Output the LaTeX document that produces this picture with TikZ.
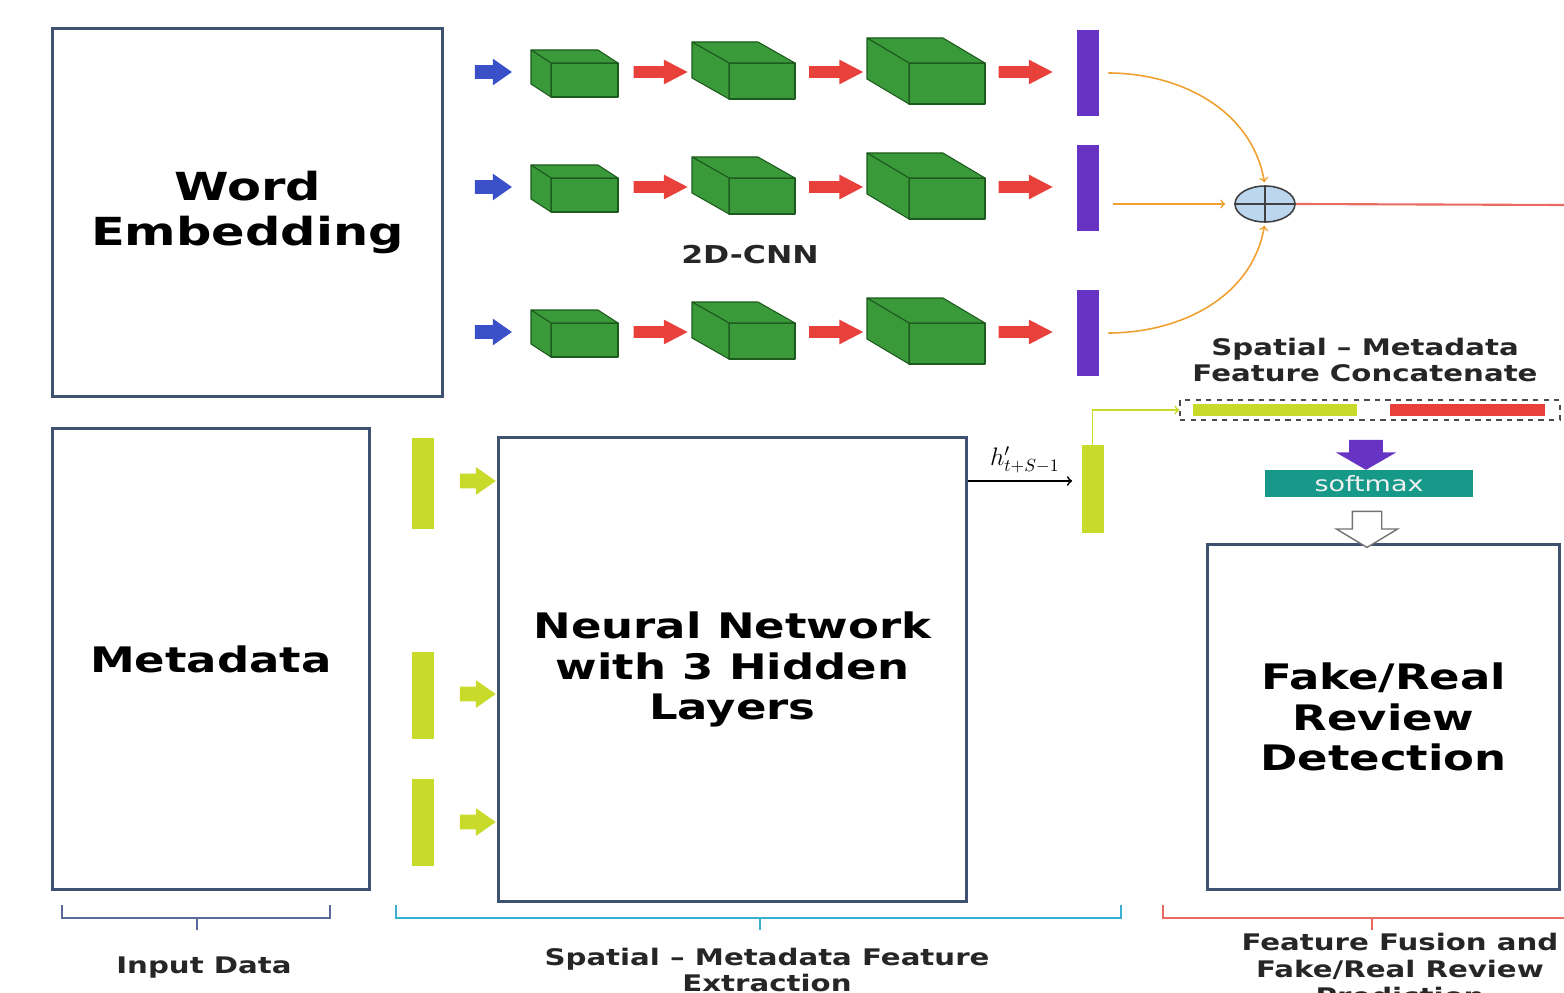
\documentclass[tikz,border=0pt]{standalone}
\usepackage{fontspec}
\newfontfamily\diagfont[FakeStretch=1.28]{DejaVu Sans}
\usetikzlibrary{shapes.geometric,shapes.arrows}
\definecolor{boxblue}{HTML}{3F5170}
\definecolor{cubegreen}{HTML}{3A9A3A}
\definecolor{cubeedge}{HTML}{1D5A1D}
\definecolor{arrblue}{HTML}{3A50C8}
\definecolor{arrred}{HTML}{E8403A}
\definecolor{barpurple}{HTML}{6633C4}
\definecolor{fuseorange}{HTML}{F0A030}
\definecolor{limey}{HTML}{C8DA2A}
\definecolor{softteal}{HTML}{17998A}
\definecolor{oplusblue}{HTML}{BCD6F0}
\definecolor{brkinput}{HTML}{5A6A9A}
\definecolor{brkspatial}{HTML}{3AB0D0}
\definecolor{brkfusion}{HTML}{E86A60}
\newcommand{\cnncube}[6]{%
	\filldraw[cubeface] ({#1},{#2}) rectangle ({#1+#3},{#2+#4});
	\filldraw[cubeface] ({#1},{#2}) -- ({#1-#5},{#2-#6}) -- ({#1+#3-#5},{#2-#6}) -- ({#1+#3},{#2}) -- cycle;
	\filldraw[cubeface] ({#1},{#2}) -- ({#1-#5},{#2-#6}) -- ({#1-#5},{#2+#4-#6}) -- ({#1},{#2+#4}) -- cycle;
}

\begin{document}
\begin{tikzpicture}[x=0.02cm, y=-0.02cm]
		\tikzstyle{every node}=[inner sep=1pt, align=center, font=\diagfont\bfseries]
		\tikzstyle{bigbox}=[draw=boxblue, line width=1.7pt, fill=white]
		\tikzstyle{cubeface}=[fill=cubegreen, draw=cubeedge, line width=0.6pt, line join=round]
		\tikzstyle{blockarr}=[single arrow, inner xsep=0pt, minimum width=0pt]
		\tikzstyle{bluearr}=[blockarr, fill=arrblue, minimum height=0.74cm, inner ysep=0.13cm, single arrow head extend=0.13cm, single arrow tip angle=70]
		\tikzstyle{redarr}=[blockarr, fill=arrred, minimum height=1.08cm, inner ysep=0.11cm, single arrow head extend=0.13cm, single arrow tip angle=55]
		\tikzstyle{limearr}=[blockarr, fill=limey, minimum height=0.72cm, inner ysep=0.14cm, single arrow head extend=0.13cm, single arrow tip angle=70]
		\tikzstyle{cnnbar}=[fill=barpurple, minimum width=0.44cm, minimum height=1.74cm, inner sep=0pt]
		\tikzstyle{metabar}=[fill=limey, minimum width=0.44cm, minimum height=1.76cm, inner sep=0pt]
		\tikzstyle{fusearr}=[->, draw=fuseorange, line width=0.9pt]
		\tikzstyle{label}=[font=\diagfont\bfseries\fontsize{13}{15.3}\selectfont, text=black!85]
		\useasboundingbox (0,0) rectangle (1564,993);
		\clip (0,0) rectangle (1564,993);
		\node[bigbox, minimum width=7.82cm, minimum height=7.38cm, font=\diagfont\bfseries\fontsize{22}{26}\selectfont] (embed) at (247.5,212.5) {Word\\Embedding};
		\node[bigbox, minimum width=6.36cm, minimum height=9.24cm, font=\diagfont\bfseries\fontsize{20}{23}\selectfont] (meta) at (211,659) {Metadata};
		\node[bigbox, minimum width=9.38cm, minimum height=9.3cm, font=\diagfont\bfseries\fontsize{20}{23}\selectfont] (nn) at (732.5,669.5) {Neural Network\\with 3 Hidden\\Layers};
		\node[bigbox, minimum width=7.06cm, minimum height=6.92cm, font=\diagfont\bfseries\fontsize{20}{23}\selectfont] (detect) at (1383.5,717) {Fake/Real\\Review\\Detection};
		\foreach \r/\i in {72/1,187/2,332/3} {
			\node[bluearr] (in\i) at (488.5,\r) {};
			\cnncube{551}{\r-9}{67}{34}{20}{13}
			\node[redarr] (ra\i) at (655,\r) {};
			\cnncube{729}{\r-9}{66}{36}{37}{21}
			\node[redarr] (rb\i) at (830.5,\r) {};
			\cnncube{909}{\r-9}{76}{41}{42}{25}
			\node[redarr] (rc\i) at (1020,\r) {};
			\node[cnnbar] (bar\i) at (1088,{\r+1}) {};
		}
		\node[font=\diagfont\bfseries\fontsize{14}{16}\selectfont, text=black!85] (cnn) at (750,255) {2D-CNN};
		\node[ellipse, draw=black!75, fill=oplusblue, line width=0.9pt, minimum width=1.2cm, minimum height=0.72cm] (oplus) at (1265,204) {};
		\draw[black!75, line width=0.9pt] (oplus.north) -- (oplus.south) (oplus.west) -- (oplus.east);
		\draw[fusearr, shorten <=0.18cm, shorten >=0.06cm] (bar1.east) to[out=0, in=100] (oplus.north);
		\draw[fusearr, shorten <=0.28cm, shorten >=0.18cm] (bar2.east |- oplus.west) -- (oplus.west);
		\draw[fusearr, shorten <=0.18cm, shorten >=0.06cm] (bar3.east) to[out=0, in=260] (oplus.south);
		\coordinate (redend) at (1564,205);
		\draw[brkfusion, line width=1.2pt] (oplus.east) -- (redend);
		\node[label] (concattxt) at (1365,360) {Spatial – Metadata\\Feature Concatenate};
		\node[draw=black!70, dashed, line width=0.9pt, minimum width=7.6cm, minimum height=0.4cm, inner sep=0pt] (concat) at (1370,410) {};
		\node[fill=limey, minimum width=3.28cm, minimum height=0.24cm, inner sep=0pt] (ybar) at (1275,410) {};
		\node[fill=arrred, minimum width=3.1cm, minimum height=0.24cm, inner sep=0pt] (rbar) at (1467.5,410) {};
		\node[metabar] (hbar) at (1092.5,489) {};
		\draw[->, limey, line width=0.9pt] (hbar.north) |- (concat.west);
		\draw[->, line width=1pt, shorten >=0.18cm] (nn.east |- 0,481) -- (hbar.west |- 0,481) node[midway, above=3pt, font=\bfseries\fontsize{14}{16}\selectfont] {$h'_{t+S-1}$};
		\node[blockarr, fill=barpurple, rotate=-90, minimum height=0.6cm, inner ysep=0.33cm, single arrow head extend=0.27cm, single arrow tip angle=120] (downarr) at (1366,450) {};
		\node[fill=softteal, minimum width=4.16cm, minimum height=0.54cm, inner sep=0pt, text=white!88!gray, font=\diagfont\fontsize{12}{14}\selectfont] (softmax) at (1369,483.5) {softmax};
		\node[blockarr, draw=black!55, fill=white, line width=0.8pt, rotate=-90, minimum height=0.72cm, inner ysep=0.28cm, single arrow head extend=0.32cm, single arrow tip angle=118] (hollowarr) at (1367,525) {};
		\node[metabar, minimum height=1.82cm] (mbar1) at (423,483.5) {};
		\node[metabar, minimum height=1.74cm] (mbar2) at (423,695.5) {};
		\node[metabar, minimum height=1.74cm] (mbar3) at (423,822.5) {};
		\node[limearr] (ma1) at (472.5,481) {};
		\node[limearr] (ma2) at (472.5,694) {};
		\node[limearr] (ma3) at (472.5,822) {};
		\draw[brkinput, line width=1.2pt] (62,905) -- (62,918) -- (330,918) -- (330,905) (197,918) -- (197,930);
		\draw[brkspatial, line width=1.2pt] (396,905) -- (396,918) -- (1121,918) -- (1121,905) (760,918) -- (760,930);
		\draw[brkfusion, line width=1.2pt] (1163,905) -- (1163,918) -- (1564,918) (1372,918) -- (1372,930);
		\node[label] (inlabel) at (204,968) {Input Data};
		\node[label] (spatlabel) at (767,970) {Spatial – Metadata Feature\\Extraction};
		\node[label] (fuselabel) at (1400,969) {Feature Fusion and\\Fake/Real Review\\Prediction};
\end{tikzpicture}
\end{document}
